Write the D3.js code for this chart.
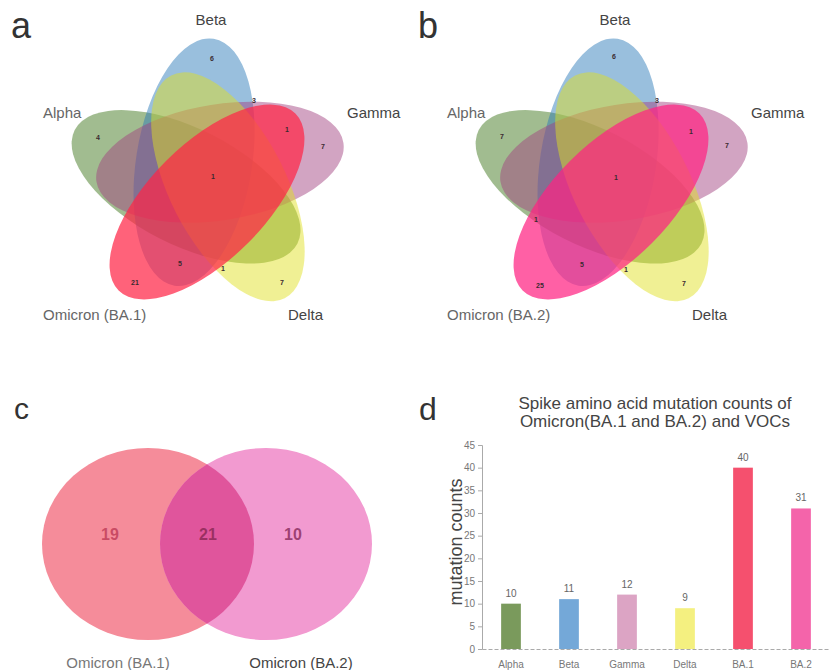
<!DOCTYPE html>
<html>
<head>
<meta charset="utf-8">
<script src="https://cdn.jsdelivr.net/npm/d3@7"></script>
<style>
  html, body { margin: 0; padding: 0; background: #fff; }
  svg { display: block; font-family: "Liberation Sans", Arial, sans-serif; }
</style>
</head>
<body>
<svg id="chart" width="837" height="670"></svg>
<script>
// ---------- DATA ----------
// Venn set names (panels a, b)
const vennSetsA = ["Beta", "Gamma", "Delta", "Omicron (BA.1)", "Alpha"];
const vennSetsB = ["Beta", "Gamma", "Delta", "Omicron (BA.2)", "Alpha"];
// region counts visible in the 5-set diagrams
const vennCountsA = ["6", "3", "4", "1", "7", "1", "5", "1", "21", "7"];
const vennCountsB = ["6", "3", "7", "1", "7", "1", "1", "5", "1", "25", "7"];
// two-set Venn (panel c)
const pairSets = ["Omicron (BA.1)", "Omicron (BA.2)"];
const pairCounts = [19, 21, 10];
// bar chart (panel d)
const barCategories = ["Alpha", "Beta", "Gamma", "Delta", "BA.1", "BA.2"];
const barValues = [10, 11, 12, 9, 40, 31];
const yTicks = [0, 5, 10, 15, 20, 25, 30, 35, 40, 45];
const barTitle = ["Spike amino acid mutation counts of", "Omicron(BA.1 and BA.2) and VOCs"];
const barYLabel = "mutation counts";

// ---------- LAYOUT / STYLE ----------
const svg = d3.select("#chart");
const setDirs = [-90, -18, 54, 126, 198];   // petal direction (deg) per set
const setColors = ["#2a7ab8", "#a04080", "#e0e020", null, "#3a7418"];
const omicronColorA = "#ff2646", omicronColorB = "#ff2282";
const drawOrder = [4, 0, 1, 2, 3];           // Alpha, Beta, Gamma, Delta, Omicron
const ellA = 125, ellB = 58, ellOff = 22;
// label positions relative to venn centre
const setLabelPos = [
  {dx: 4, dy: -155, anchor: "middle"},
  {dx: 140, dy: -62, anchor: "start"},
  {dx: 81, dy: 140, anchor: "start"},
  {dx: -164, dy: 140, anchor: "start"},
  {dx: -164, dy: -62, anchor: "start"}
];
const countPosA = [[5,-121],[47,-79],[-109,-42],[80,-50],[116,-33],[6,-3],[-27,84],[16,89],[-72,103],[75,103]];
const countPosB = [[3,-123],[46,-79],[-109,-43],[80,-48],[116,-34],[5,-2],[-75,40],[-29,85],[15,90],[-71,106],[73,104]];

function drawVenn5(cx, cy, sets, omiColor, counts, countPos, letter, letterX) {
  const g = svg.append("g");
  drawOrder.forEach(i => {
    const off = (setDirs[i] - 36) * Math.PI / 180;
    const ex = cx + ellOff * Math.cos(off);
    const ey = cy + ellOff * Math.sin(off);
    const col = i === 3 ? omiColor : setColors[i];
    g.append("ellipse")
      .attr("cx", 0).attr("cy", 0)
      .attr("rx", ellA).attr("ry", ellB)
      .attr("transform", `translate(${ex},${ey}) rotate(${setDirs[i] + 9})`)
      .attr("fill", col)
      .attr("fill-opacity", i === 3 ? 0.72 : 0.48);
  });
  sets.forEach((s, i) => {
    const p = setLabelPos[i];
    g.append("text")
      .attr("x", cx + p.dx).attr("y", cy + p.dy)
      .attr("text-anchor", p.anchor)
      .attr("font-size", 15)
      .attr("fill", (i === 3 || i === 4) ? "#666" : "#444")
      .text(s);
  });
  counts.forEach((c, i) => {
    g.append("text")
      .attr("x", cx + countPos[i][0]).attr("y", cy + countPos[i][1])
      .attr("text-anchor", "middle").attr("dominant-baseline", "middle")
      .attr("font-size", 7).attr("font-weight", "bold")
      .attr("fill", "#3a2a30")
      .text(c);
  });
  svg.append("text").attr("x", letterX).attr("y", 38)
    .attr("font-size", 36).attr("fill", "#333").text(letter);
}

drawVenn5(207, 180, vennSetsA, omicronColorA, vennCountsA, countPosA, "a", 11);
drawVenn5(611, 180, vennSetsB, omicronColorB, vennCountsB, countPosB, "b", 418);

// ---------- Panel c ----------
(function () {
  const cy = 544, rx = 106, ry = 96;
  const xs = d3.scaleLinear().domain([0, 1]).range([148, 266]);
  const g = svg.append("g");
  const defs = svg.append("defs");
  defs.append("clipPath").attr("id", "clipL")
    .append("ellipse").attr("cx", xs(0)).attr("cy", cy).attr("rx", rx).attr("ry", ry);
  g.append("ellipse").attr("cx", xs(0)).attr("cy", cy).attr("rx", rx).attr("ry", ry)
    .attr("fill", "#f58c9a");
  g.append("ellipse").attr("cx", xs(1)).attr("cy", cy).attr("rx", rx).attr("ry", ry)
    .attr("fill", "#f29ad0");
  g.append("ellipse").attr("cx", xs(1)).attr("cy", cy).attr("rx", rx).attr("ry", ry)
    .attr("clip-path", "url(#clipL)")
    .attr("fill", "#e0559c");
  const numX = [110, 208, 293];
  const numCol = ["#c2405a", "#8e2a58", "#8e3062"];
  pairCounts.forEach((c, i) => {
    g.append("text").attr("x", numX[i]).attr("y", 540)
      .attr("text-anchor", "middle").attr("font-size", 16).attr("font-weight", "bold")
      .attr("fill", numCol[i]).attr("fill-opacity", 0.85).text(c);
  });
  g.append("text").attr("x", 118).attr("y", 668).attr("text-anchor", "middle")
    .attr("font-size", 15).attr("fill", "#777").text(pairSets[0]);
  g.append("text").attr("x", 301).attr("y", 668).attr("text-anchor", "middle")
    .attr("font-size", 15).attr("fill", "#444").text(pairSets[1]);
  svg.append("text").attr("x", 14).attr("y", 419)
    .attr("font-size", 30).attr("fill", "#333").text("c");
})();

// ---------- Panel d ----------
(function () {
  const x0 = 482, x1 = 830, yTop = 445, yBot = 649;
  const x = d3.scaleBand().domain(barCategories).range([x0, x1])
    .paddingInner(0.66).paddingOuter(0.33);
  const y = d3.scaleLinear().domain([0, 45]).range([yBot, yTop]);
  const barColors = ["#7a9a5c", "#74a8d8", "#dca4c4", "#f4f080", "#f5506e", "#f464aa"];
  const g = svg.append("g");

  g.selectAll("rect.bar").data(barValues).join("rect")
    .attr("class", "bar")
    .attr("x", (d, i) => x(barCategories[i]))
    .attr("y", d => y(d))
    .attr("width", x.bandwidth())
    .attr("height", d => y(0) - y(d))
    .attr("fill", (d, i) => barColors[i]);

  g.selectAll("text.val").data(barValues).join("text")
    .attr("class", "val")
    .attr("x", (d, i) => x(barCategories[i]) + x.bandwidth() / 2)
    .attr("y", d => y(d) - 7)
    .attr("text-anchor", "middle").attr("font-size", 10).attr("fill", "#666")
    .text(d => d);

  const yAxis = d3.axisLeft(y).tickValues(yTicks).tickSize(4).tickPadding(3);
  const ya = g.append("g").attr("transform", `translate(${x0},0)`).call(yAxis);
  ya.select(".domain").attr("stroke", "#aaa");
  ya.selectAll(".tick line").attr("stroke", "#aaa");
  ya.selectAll(".tick text").attr("fill", "#777").attr("font-size", 10)
    .attr("font-family", "Liberation Sans, Arial, sans-serif");

  const xAxis = d3.axisBottom(x).tickSize(0).tickPadding(12);
  const xa = g.append("g").attr("transform", `translate(0,${yBot})`).call(xAxis);
  xa.select(".domain").attr("stroke", "#aaa").attr("stroke-dasharray", "4,2");
  xa.selectAll(".tick text").attr("fill", "#777").attr("font-size", 10)
    .attr("font-family", "Liberation Sans, Arial, sans-serif");

  g.append("text")
    .attr("transform", `translate(462,542) rotate(-90)`)
    .attr("text-anchor", "middle").attr("font-size", 18).attr("fill", "#444")
    .text(barYLabel);

  barTitle.forEach((t, i) => {
    g.append("text").attr("x", 655).attr("y", 409 + i * 18)
      .attr("text-anchor", "middle").attr("font-size", 17).attr("fill", "#444").text(t);
  });
  svg.append("text").attr("x", 419).attr("y", 420)
    .attr("font-size", 32).attr("fill", "#333").text("d");
})();
</script>
</body>
</html>
